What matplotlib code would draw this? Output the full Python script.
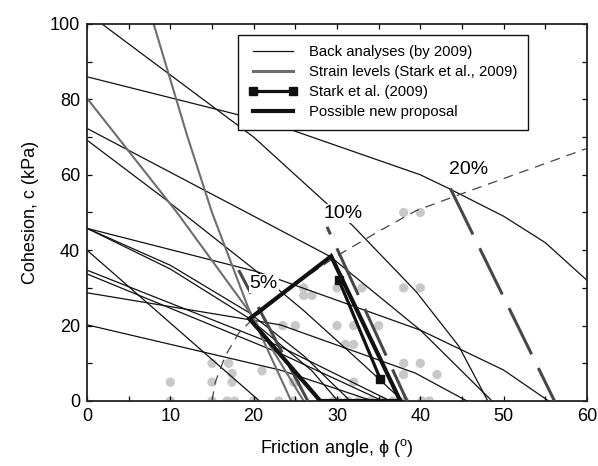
import matplotlib.pyplot as plt
from matplotlib.lines import Line2D

plt.rcParams['font.family'] = ['Liberation Sans', 'DejaVu Sans']
plt.rcParams['lines.scale_dashes'] = False

# back analyses (by 2009), traced (phi, c) points of each envelope
back_phi = [
    [1.8, 20, 29.2, 31.8, 39.5, 44.6, 48.1],
    [0, 18, 24.4, 40, 43.3, 50, 55, 60],
    [0, 19.6, 29.2, 40, 48.6],
    [0, 9.4, 20.4, 26, 33, 37.9],
    [0, 20.4, 23.2, 40, 50, 55.4],
    [0, 10, 19.4, 26, 31.6],
    [0, 10, 19.4, 27, 30.1],
    [0, 20.7],
    [0, 23.2, 36.4],
    [0, 23.2, 35.5],
    [0, 23.2, 39.4, 45.6],
    [0, 23.2, 34.3],
]
back_c = [
    [100, 70, 51.5, 46.7, 29, 14.6, 0],
    [86, 76, 72, 60, 56.5, 49, 42, 32],
    [72.3, 49.5, 38.3, 18.8, 0],
    [69.2, 53.5, 34.3, 24, 10, 0],
    [45.8, 34.3, 32.1, 18.8, 8.2, 0],
    [45.8, 36, 23.5, 12, 0],
    [45.8, 35, 22, 8, 0],
    [40, 0],
    [34.7, 14.4, 0],
    [33.7, 12.6, 0],
    [28.7, 20.2, 7.4, 0],
    [20.2, 8.2, 0],
]

# grey solid envelopes
grey_phi = [[0, 10.8, 19.6, 26], [8, 12, 15, 19.3, 24.5]]
grey_c = [[80.3, 50, 23.3, 0], [100, 70.5, 50, 25, 0]]

# strain levels (Stark et al., 2009)
strain_labels = ['5%', '10%', '20%']
strain_phi = [[18.2, 26.5], [28.8, 38.4], [43.6, 56.1]]
strain_c = [[34.7, 0], [46.2, 0], [56.4, 0]]
strain_label_phi = [21.2, 30.7, 45.8]
strain_label_c = [31.2, 49.7, 61.3]

# trend through strain points
trend_phi = [15, 15.4, 16.6, 18.2, 20, 25, 30, 35, 39.5, 45, 50, 55, 60]
trend_c = [0, 5, 12, 18, 22, 31, 38.5, 45, 50.5, 55, 59, 63, 67]

# Stark et al. (2009)
stark_phi = [30.2, 35.2]
stark_c = [32.2, 5.8]

# possible new proposal
prop_phi = [19.5, 29.3, 37.6, 28.0, 19.5]
prop_c = [21.8, 38.4, 0, 0, 21.8]

# data points
dots_phi = [38, 40, 26, 30, 33, 38, 40, 26, 27, 23.5, 25, 30, 32, 35, 31, 32,
            15, 17, 38, 40, 17.4, 21, 38, 42, 10, 15, 17.4, 25, 32, 24.8,
            10, 15, 16.8, 17.7, 20, 23, 24.8, 29.6, 30.1, 31.3, 32.6, 34,
            35.4, 36.7, 38.1, 40.2, 41.1]
dots_c = [50, 50, 30, 30, 30, 30, 30, 28, 28, 20, 20, 20, 20, 20, 15, 15,
          10, 10, 10, 10, 7.3, 8, 7, 7, 5, 5, 5, 5, 5, 5,
          0, 0, 0, 0, 0, 0, 0, 0, 0, 0, 0, 0,
          0, 0, 0, 0, 0]

fig = plt.figure(figsize=(5.98, 4.66), dpi=100)
ax = fig.add_axes([0.1455, 0.1395, 0.8361, 0.809])

ax.scatter(dots_phi, dots_c, s=45, color='#c8c8c8', edgecolors='none', zorder=1)

for p, c in zip(back_phi, back_c):
    ax.plot(p, c, color='#111111', lw=0.9, zorder=2)

for p, c in zip(grey_phi, grey_c):
    ax.plot(p, c, color='#6e6e6e', lw=1.5, zorder=2)

ax.plot(trend_phi, trend_c, color='#444444', lw=0.9, linestyle=(0, (7, 5)), zorder=3)

offsets = [18, 31, 0]
for p, c, off in zip(strain_phi, strain_c, offsets):
    ax.plot(p, c, color='#474747', lw=2.2, linestyle=(off, (37, 11)),
            solid_capstyle='butt', dash_capstyle='butt', zorder=3)

for lab, x, y in zip(strain_labels, strain_label_phi, strain_label_c):
    ax.text(x, y, lab, fontsize=14, ha='center', va='center', zorder=5,
            bbox=dict(facecolor='white', edgecolor='none', pad=0.5))

ax.plot(stark_phi, stark_c, color='#111111', lw=2.3, marker='s', ms=6, zorder=6)
ax.plot(prop_phi, prop_c, color='#111111', lw=3, zorder=6, solid_joinstyle='miter')

ax.set_xlim(0, 60)
ax.set_ylim(0, 100)
ax.set_xticks([0, 10, 20, 30, 40, 50, 60])
ax.set_xticks([5, 15, 25, 35, 45, 55], minor=True)
ax.set_yticks([0, 20, 40, 60, 80, 100])
ax.set_yticks([10, 30, 50, 70, 90], minor=True)
ax.tick_params(which='both', direction='in', top=True, right=True, length=3.5,
               width=0.9, labelsize=13, pad=5)
for s in ax.spines.values():
    s.set_linewidth(1.3)
    s.set_color('#222222')

ax.set_xlabel('Friction angle, \u03d5 ($^\\mathregular{o}$)', fontsize=13, labelpad=9)
ax.set_ylabel('Cohesion, c (kPa)', fontsize=13, labelpad=8)

handles = [
    Line2D([], [], color='#111111', lw=0.9),
    Line2D([], [], color='#6e6e6e', lw=2.2),
    Line2D([], [], color='#111111', lw=2.3, marker='s', ms=6),
    Line2D([], [], color='#111111', lw=3),
]
labels = ['Back analyses (by 2009)', 'Strain levels (Stark et al., 2009)',
          'Stark et al. (2009)', 'Possible new proposal']
leg = ax.legend(handles, labels, loc='upper left', bbox_to_anchor=(0.302, 0.971),
                borderaxespad=0, fontsize=10.7, handlelength=3.3, handletextpad=0.8,
                numpoints=2, fancybox=False, framealpha=1, edgecolor='#111111',
                labelspacing=0.4, borderpad=0.7)
leg.get_frame().set_linewidth(1.0)
leg.set_zorder(10)

fig.savefig('out.png', dpi=100)
